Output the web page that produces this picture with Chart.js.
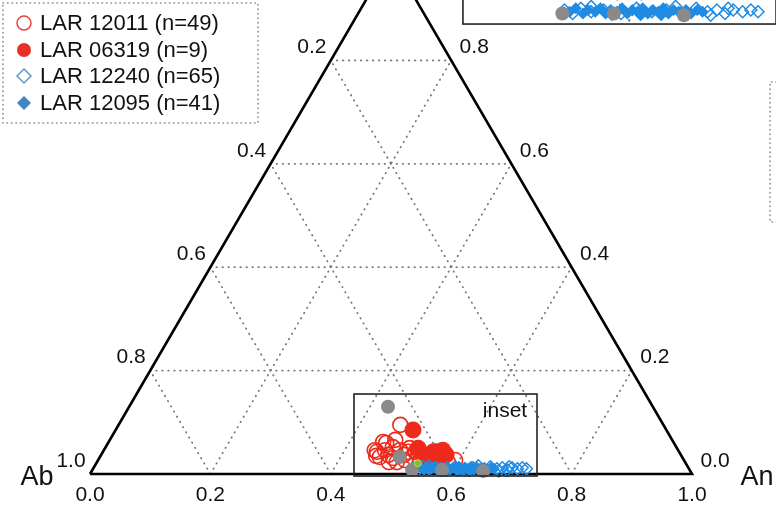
<!DOCTYPE html>
<html><head><meta charset="utf-8">
<script src="https://cdn.jsdelivr.net/npm/chart.js@4.4.1/dist/chart.umd.min.js"></script>
<style>html,body{margin:0;padding:0;background:#fff}#wrap{width:776px;height:508px;position:relative}</style>
</head><body><div id="wrap"><canvas id="c" width="776" height="508"></canvas></div>
<script>
// ---- data (ternary fractions: An, Or; Ab = 1 - An - Or) ----
const seriesNames = ['LAR 12011 (n=49)', 'LAR 06319 (n=9)', 'LAR 12240 (n=65)', 'LAR 12095 (n=41)'];

const lar12011An = [0.468,0.456,0.455,0.465,0.477,0.477,0.492,0.507,0.488,0.510,0.520,0.593,0.462,0.458,0.498,0.537,0.551,0.583,0.485,0.506,0.450,0.474,0.467,0.503,0.519];
const lar12011Or = [0.095,0.062,0.043,0.033,0.037,0.052,0.046,0.043,0.031,0.027,0.033,0.027,0.060,0.035,0.023,0.023,0.021,0.023,0.023,0.050,0.046,0.066,0.046,0.037,0.043];

const lar06319An = [0.494,0.520,0.549,0.563,0.563,0.544,0.573,0.554,0.532];
const lar06319Or = [0.085,0.050,0.043,0.046,0.031,0.031,0.037,0.043,0.039];

const lar12240An = [0.531,0.541,0.546,0.558,0.569,0.588,0.600,0.617,0.630,0.647,0.658,0.671,0.679,0.689,0.695,0.705,0.712,0.720,0.676,0.689,0.555,0.637];
const lar12240Or = [0.012,0.008,0.014,0.010,0.012,0.008,0.014,0.010,0.012,0.008,0.014,0.010,0.012,0.008,0.012,0.010,0.012,0.010,0.006,0.014,0.016,0.016];

const lar12095An = [0.537,0.541,0.551,0.554,0.562,0.565,0.573,0.576,0.583,0.586,0.594,0.597,0.603,0.606,0.614,0.617,0.623,0.626,0.634,0.637,0.643,0.649,0.656,0.660,0.666,0.580,0.608,0.628];
const lar12095Or = [0.010,0.014,0.008,0.012,0.010,0.014,0.008,0.012,0.010,0.014,0.008,0.012,0.010,0.014,0.008,0.012,0.010,0.014,0.008,0.012,0.010,0.012,0.008,0.012,0.010,0.006,0.006,0.006];

const otherAn = [0.430,0.498,0.531,0.581,0.650];
const otherOr = [0.130,0.033,0.008,0.008,0.006];

const greenAn = [0.534];
const greenOr = [0.021];

const gridLevels = [0.2, 0.4, 0.6, 0.8];
const tickValues = [0.0, 0.2, 0.4, 0.6, 0.8, 1.0];
const tickLabels = ['0.0', '0.2', '0.4', '0.6', '0.8', '1.0'];
const cornerNames = ['Ab', 'An'];
const insetRange = {an0: 0.4385, an1: 0.7425, or0: -0.0039, or1: 0.1547};

// ---- helpers ----
const tern = (an, or) => ({x: an + or / 2, y: or});
const pts = (an, or) => an.map((a, i) => tern(a, or[i]));

const RED = '#ee2a1c', BLUE = '#1f8be3', GRAY = '#8a8a8a';

function seriesDatasets(axes, clip, withRed) {
  const base = Object.assign({clip: clip}, axes);
  const out = [];
  if (withRed) {
    out.push(Object.assign({data: pts(lar12011An, lar12011Or), pointStyle: 'circle', pointRadius: 7.5, pointBackgroundColor: 'rgba(0,0,0,0)', pointBorderColor: RED, pointBorderWidth: 1.6, order: 5}, base));
    out.push(Object.assign({data: pts(lar06319An, lar06319Or), pointStyle: 'circle', pointRadius: 8.5, pointBackgroundColor: RED, pointBorderColor: RED, pointBorderWidth: 0, order: 4}, base));
  }
  out.push(Object.assign({data: pts(lar12240An, lar12240Or), pointStyle: 'rectRot', pointRadius: 6, pointBackgroundColor: 'rgba(0,0,0,0)', pointBorderColor: BLUE, pointBorderWidth: 1.5, order: 3}, base));
  out.push(Object.assign({data: pts(lar12095An, lar12095Or), pointStyle: 'rectRot', pointRadius: 6, pointBackgroundColor: BLUE, pointBorderColor: BLUE, pointBorderWidth: 0, order: 2}, base));
  out.push(Object.assign({data: pts(otherAn, otherOr), pointStyle: 'circle', pointRadius: 7, pointBackgroundColor: GRAY, pointBorderColor: GRAY, pointBorderWidth: 0, order: 1}, base));
  if (withRed) {
    out.push(Object.assign({data: pts(greenAn, greenOr), pointStyle: 'circle', pointRadius: 3.5, pointBackgroundColor: '#7bbf3a', pointBorderColor: '#c8d93a', pointBorderWidth: 1, order: 0}, base));
  }
  return out;
}

function gridDatasets(axes, clip) {
  const out = [];
  const dot = {showLine: true, pointRadius: 0, borderColor: '#777', borderWidth: 1.8, borderDash: [0.5, 5.5], borderCapStyle: 'round', order: 10, clip: clip};
  gridLevels.forEach(k => {
    out.push(Object.assign({data: [tern(0, k), tern(1 - k, k)]}, dot, axes));
    out.push(Object.assign({data: [tern(k, 0), tern(k, 1 - k)]}, dot, axes));
    out.push(Object.assign({data: [tern(1 - k, 0), tern(0, 1 - k)]}, dot, axes));
  });
  return out;
}

const mainAxes = {xAxisID: 'x', yAxisID: 'y'};
const insetAxes = {xAxisID: 'x2', yAxisID: 'y2'};
const insetClip = {left: -463, top: 0, right: 0, bottom: -484};

const datasets = [
  ...gridDatasets(mainAxes, false),
  Object.assign({data: [tern(0, 0), tern(1, 0), tern(0, 1), tern(0, 0)], showLine: true, pointRadius: 0, borderColor: '#000', borderWidth: 2.6, borderJoinStyle: 'miter', order: 9, clip: false}, mainAxes),
  ...seriesDatasets(mainAxes, false, true),
  ...gridDatasets(insetAxes, insetClip),
  ...seriesDatasets(insetAxes, insetClip, false)
];

const FONT = '"Liberation Sans", Arial, Helvetica, sans-serif';

const decor = {
  id: 'decor',
  afterDraw(chart) {
    const ctx = chart.ctx;
    const sx = chart.scales.x, sy = chart.scales.y, sx2 = chart.scales.x2, sy2 = chart.scales.y2;
    const P = (an, or) => { const t = tern(an, or); return [sx.getPixelForValue(t.x), sy.getPixelForValue(t.y)]; };
    ctx.save();
    ctx.fillStyle = '#111';
    ctx.font = '21px ' + FONT;
    ctx.textAlign = 'center';
    ctx.textBaseline = 'middle';
    tickValues.forEach((v, i) => {
      let p = P(v, 0);
      ctx.fillText(tickLabels[i], p[0], p[1] + 21);
      if (v < 1) {
        p = P(0, v);
        ctx.fillText(tickLabels[tickValues.length - 1 - i], p[0] - 19, p[1] - 13);
        p = P(1 - v, v);
        ctx.fillText(tickLabels[i], p[0] + 23, p[1] - 13);
      }
    });
    ctx.font = '27px ' + FONT;
    let p = P(0, 0);
    ctx.fillText(cornerNames[0], p[0] - 53, p[1] + 4);
    p = P(1, 0);
    ctx.fillText(cornerNames[1], p[0] + 65, p[1] + 4);

    ctx.strokeStyle = '#222';
    ctx.lineWidth = 1.6;
    const r1 = [sx.getPixelForValue(insetRange.an0), sy.getPixelForValue(insetRange.or1), sx.getPixelForValue(insetRange.an1), sy.getPixelForValue(insetRange.or0)];
    ctx.strokeRect(r1[0], r1[1], r1[2] - r1[0], r1[3] - r1[1]);
    const r2 = [sx2.getPixelForValue(insetRange.an0), sy2.getPixelForValue(insetRange.or1), sx2.getPixelForValue(insetRange.an1), sy2.getPixelForValue(insetRange.or0)];
    ctx.strokeRect(r2[0], r2[1], r2[2] - r2[0], r2[3] - r2[1]);
    ctx.font = '21px ' + FONT;
    ctx.fillStyle = '#111';
    ctx.fillText('inset', r1[2] - 32, r1[1] + 17);

    ctx.strokeStyle = '#8a8a8a';
    ctx.lineWidth = 1.6;
    ctx.lineCap = 'round';
    ctx.setLineDash([0.5, 4]);
    ctx.strokeRect(3, 3, 255, 120);
    ctx.beginPath();
    ctx.moveTo(790, 82); ctx.lineTo(770, 82); ctx.lineTo(770, 222); ctx.lineTo(790, 222);
    ctx.stroke();
    ctx.setLineDash([]);

    const rows = [23, 50, 76, 103];
    const mx = 24, r = 7;
    ctx.textAlign = 'left';
    ctx.font = '22px ' + FONT;
    seriesNames.forEach((name, i) => {
      const y = rows[i];
      ctx.beginPath();
      if (i < 2) {
        ctx.arc(mx, y, r, 0, Math.PI * 2);
      } else {
        ctx.moveTo(mx, y - r); ctx.lineTo(mx + r, y); ctx.lineTo(mx, y + r); ctx.lineTo(mx - r, y); ctx.closePath();
      }
      if (i === 0) { ctx.strokeStyle = '#e0453c'; ctx.lineWidth = 1.5; ctx.stroke(); }
      if (i === 1) { ctx.fillStyle = '#e8302a'; ctx.fill(); }
      if (i === 2) { ctx.strokeStyle = '#5a9bd0'; ctx.lineWidth = 1.5; ctx.stroke(); }
      if (i === 3) { ctx.fillStyle = '#3f86c4'; ctx.fill(); }
      ctx.fillStyle = '#111';
      ctx.fillText(name, 40, y + 1);
    });
    ctx.restore();
  }
};

new Chart(document.getElementById('c'), {
  type: 'scatter',
  data: {datasets},
  options: {
    responsive: false,
    animation: false,
    events: [],
    layout: {padding: 0, autoPadding: false},
    plugins: {legend: {display: false}, tooltip: {enabled: false}},
    scales: {
      x: {type: 'linear', display: false, min: -0.1495, max: 1.1395},
      y: {type: 'linear', display: false, min: -0.06576, max: 0.91683},
      x2: {type: 'linear', display: false, min: -0.01096, max: 0.74244},
      y2: {type: 'linear', display: false, min: -0.5510, max: 0.02327}
    }
  },
  plugins: [decor]
});
</script>
</body></html>
